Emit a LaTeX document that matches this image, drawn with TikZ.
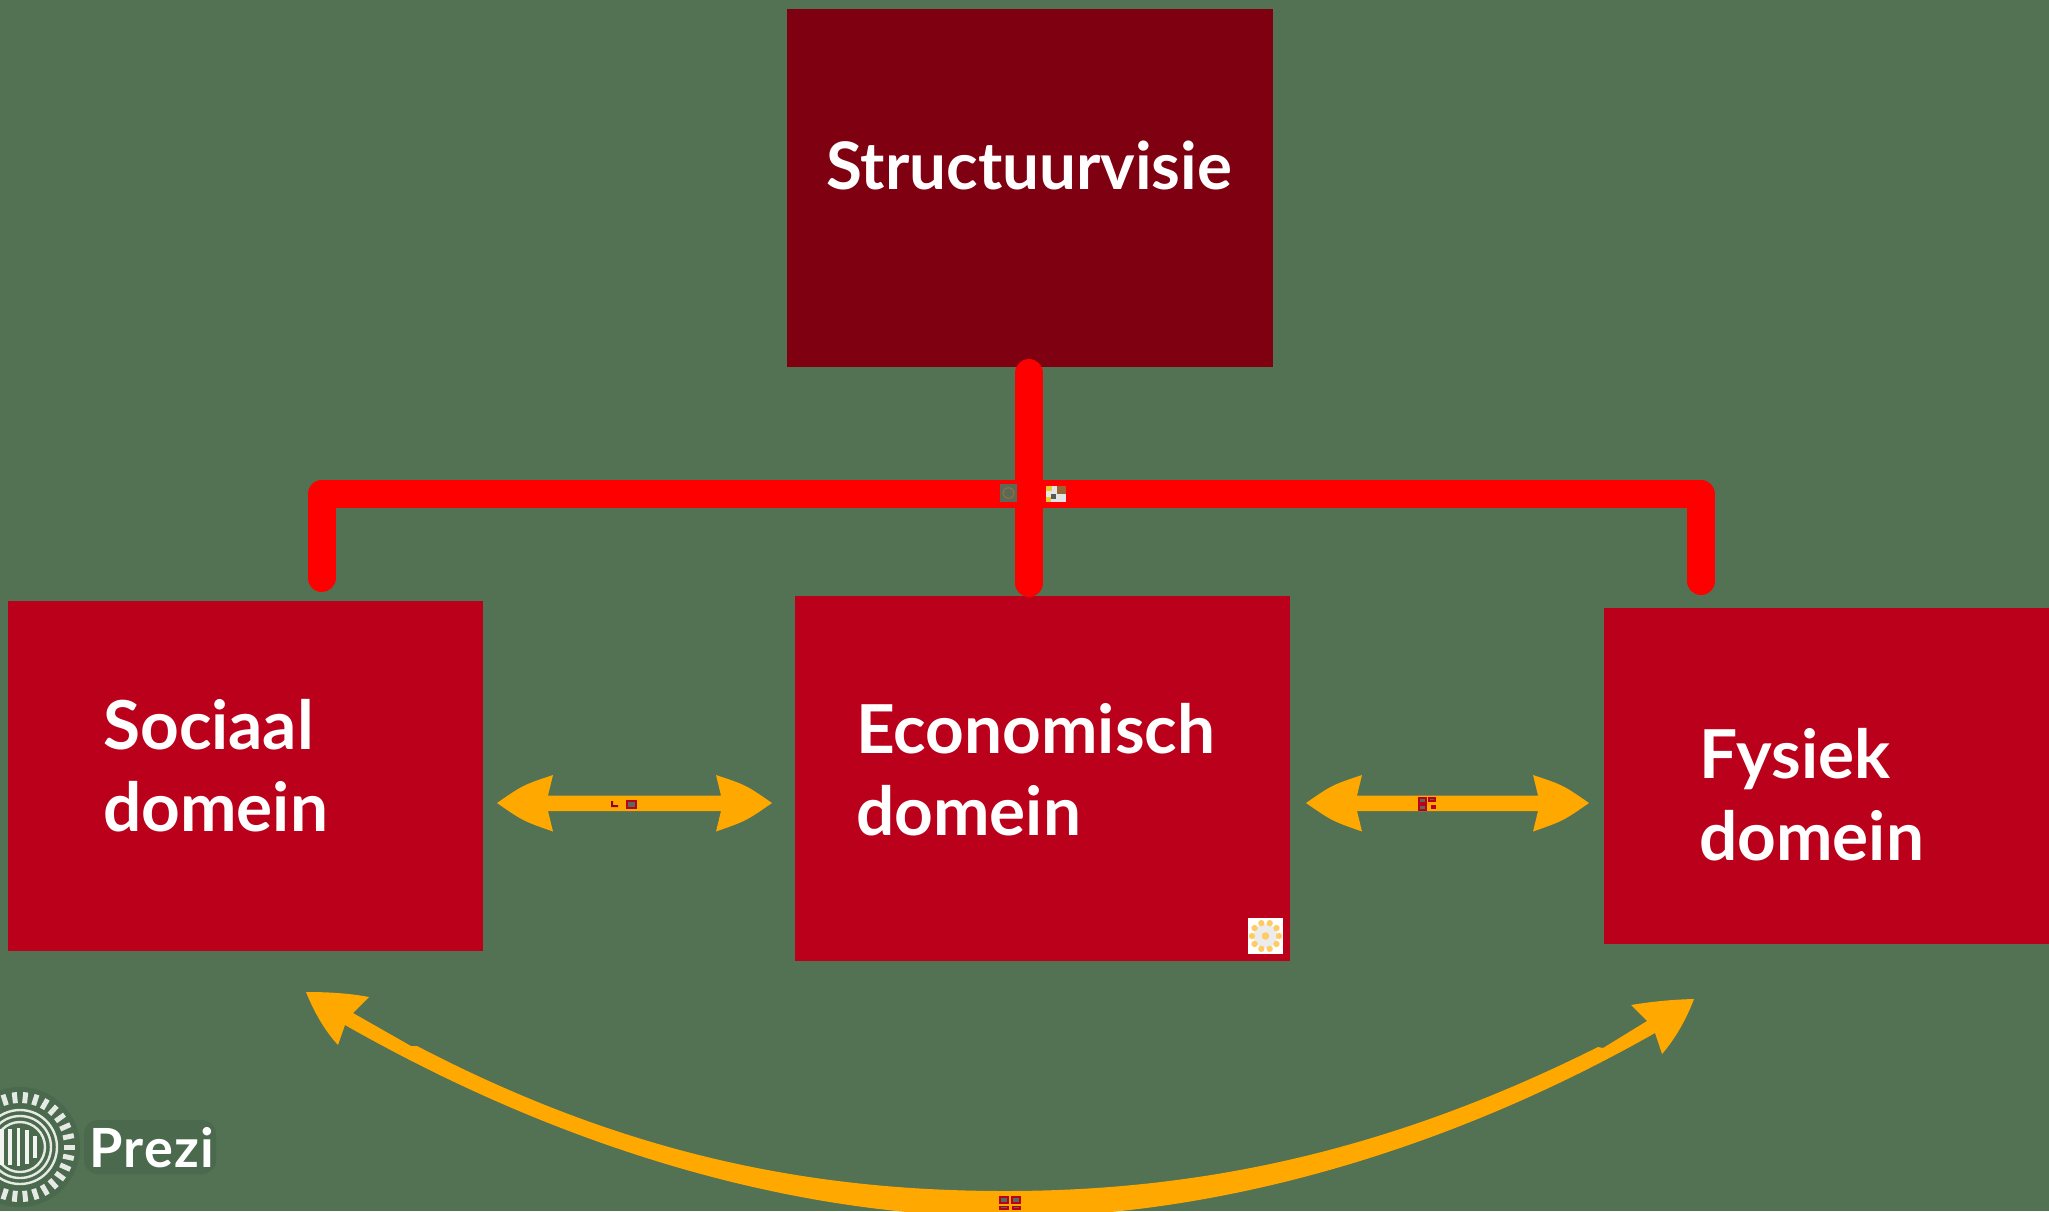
\documentclass[tikz,border=0pt]{standalone}
\usepackage{fontspec}
\setmainfont{Lato}
\definecolor{bggreen}{HTML}{537153}
\definecolor{darkred}{HTML}{7F0011}
\definecolor{boxred}{HTML}{BB001C}
\definecolor{linkorange}{HTML}{FFA900}
\definecolor{halo}{HTML}{4A694D}
\definecolor{thumbgrey}{HTML}{5A6A58}
\tikzset{
  box/.style={fill=#1,draw=none,inner sep=0pt,outer sep=0pt},
  boxlabel/.style={text=white,font=\fontsize{67.5}{82}\selectfont\bfseries,align=left,inner sep=0pt,anchor=base west},
  redlink/.style={draw=red,line width=28pt,line cap=round,line join=round},
  thumb/.style={fill=thumbgrey,draw=boxred,line width=1.6pt},
}
\newcommand{\dblarrow}[2]{%
  \fill[linkorange] (#1,803) .. controls (#1+26,785) .. (#1+56,775) -- (#1+51,795.5)
    -- (#2-51,795.5) -- (#2-56,775) .. controls (#2-26,785) .. (#2,803)
    .. controls (#2-26,821) .. (#2-56,831.5) -- (#2-51,811) -- (#1+51,811) -- (#1+56,831.5)
    .. controls (#1+26,821) .. (#1,803) -- cycle;}
\begin{document}
\begin{tikzpicture}[x=1pt,y=-1pt]
\useasboundingbox (0,0) rectangle (2049,1211);
\clip (0,0) rectangle (2049,1211);
\fill[bggreen] (0,0) rectangle (2049,1211);

% boxes
\node[box=darkred,minimum width=486pt,minimum height=358pt] (vis) at (1030,188) {};
\node[box=boxred,minimum width=475pt,minimum height=350pt] (soc) at (245.5,775.5) {};
\node[box=boxred,minimum width=495pt,minimum height=365pt] (eco) at (1042.5,778.5) {};
\node[box=boxred,minimum width=445pt,minimum height=336pt] (fys) at (1826.5,775.5) {};

% labels
\node[boxlabel,font=\fontsize{65.5}{82}\selectfont\bfseries] (tvis) at (826,189) {Structuurvisie};
\node[boxlabel] (tsoc) at (103,831) {Sociaal\\domein};
\node[boxlabel] (teco) at (856,835) {Economisch\\domein};
\node[boxlabel] (tfys) at (1699,860) {Fysiek\\domein};

% red connectors
\coordinate (trunkTop) at (1029,373);
\coordinate (trunkEnd) at (1029,583);
\coordinate (leftEnd) at (321.5,578);
\coordinate (rightEnd) at (1701,581);
\coordinate (leftCorner) at (321.5,494);
\coordinate (rightCorner) at (1701,494);
\draw[redlink] (trunkTop) -- (trunkEnd);
\draw[redlink] (leftEnd) -- (leftCorner) -- (rightCorner) -- (rightEnd);

% straight double arrows
\dblarrow{497}{772}
\dblarrow{1306}{1589}

% curved arrow
\fill[linkorange] (306,992) .. controls (327,992) and (348,993) .. (369,997) -- (353,1013)
  -- (411,1046) -- (417,1046)
  .. controls (617,1150) and (800,1191) .. (1005,1191)
  .. controls (1210,1191) and (1398,1147) .. (1598,1047) -- (1603,1048)
  -- (1647,1021) -- (1631,1005) .. controls (1652,1001.5) and (1673,999.5) .. (1694,999)
  .. controls (1686,1020) and (1675,1039) .. (1662,1054) -- (1655,1033)
  .. controls (1440,1155) and (1210,1217) .. (1010,1217)
  .. controls (800,1217) and (570,1153) .. (345,1025)
  -- (338,1045) .. controls (325,1031) and (314,1012) .. (306,992) -- cycle;

% thumbnails
\fill[thumbgrey] (1000,484) rectangle (1017,502);
\draw[draw={rgb,255:red,160;green,110;blue,50},line width=1pt] (1008.5,493) circle (5.5pt);
\fill[white!80!gray] (1046,486) rectangle (1066,502);
\fill[brown!80!black] (1057,486) rectangle (1066,494);
\fill[yellow!60!brown] (1046,486) rectangle (1052,491);
\fill[yellow!60!brown] (1046,497) rectangle (1051,502);
\fill[gray!70!black] (1051,494) rectangle (1056,499);

\fill[boxred!80!black] (611,801) rectangle (613,807) (611,805) rectangle (618,807);
\draw[thumb] (627,801) rectangle (636,808);

\draw[thumb] (1419,798) rectangle (1426,803);
\draw[thumb] (1419,805) rectangle (1426,810);
\draw[thumb] (1429,798) rectangle (1435,801);
\fill[boxred] (1431,805) rectangle (1436,809);

\draw[thumb] (1000,1197) rectangle (1008,1203);
\draw[thumb] (1012,1197) rectangle (1020,1203);
\draw[thumb] (1000,1206.5) rectangle (1008,1209);
\draw[thumb] (1013,1206.5) rectangle (1020,1209);

\fill[white] (1248,918) rectangle (1283,954);
\fill[gray!15] (1265.5,936) circle (12pt);
\foreach \a in {0,36,...,324}
  \fill[linkorange!60!white] ({1265.5+13.5*cos(\a)},{936+13.5*sin(\a)}) circle (3.2pt);
\fill[linkorange!60!white] (1265.5,936) circle (3.8pt);

% Prezi logo
\fill[halo] (20,1147) circle (60pt);
\fill[halo,rounded corners=14pt] (84,1120) rectangle (216,1174);
\foreach \a in {0,12,...,349}
  \draw[white!85!bggreen,line width=5pt] ({20+44*cos(\a)},{1147+44*sin(\a)}) -- ({20+55*cos(\a)},{1147+55*sin(\a)});
\draw[white!85!bggreen,line width=2.4pt] (20,1147) circle (37pt) (20,1147) circle (31pt) (20,1147) circle (25pt);
\foreach \bx/\bh in {2/18,10/18,18.5/19,27/17,35/11}
  \draw[white!92!bggreen,line width=3.6pt] (\bx,1147-\bh) -- (\bx,1147+\bh);
\node[text=white,font=\fontsize{54}{60}\selectfont\bfseries\addfontfeatures{LetterSpace=2.5},inner sep=0pt,anchor=base west] (prezi) at (89,1167) {Prezi};
\end{tikzpicture}
\end{document}
